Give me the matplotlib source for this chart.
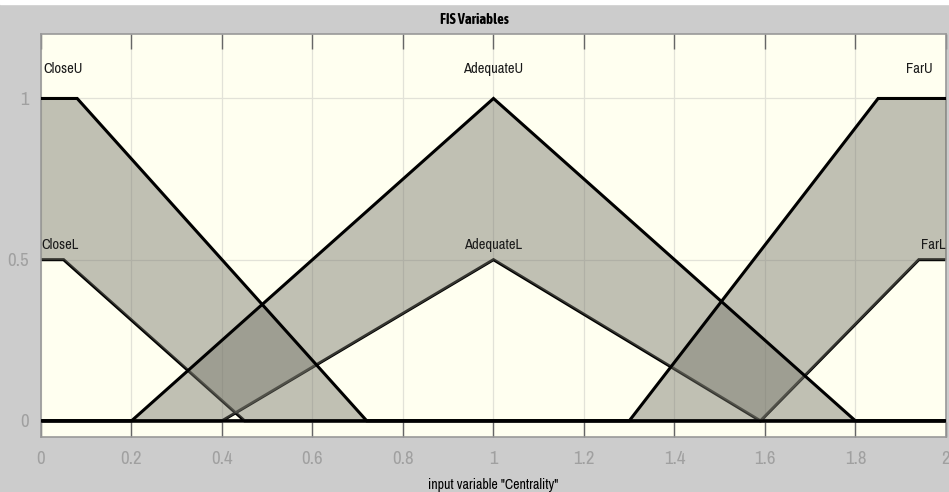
import numpy as np
import matplotlib.pyplot as plt
from matplotlib import font_manager

# membership functions of the input "Centrality" (upper / lower)
mf_names = ["Close", "Adequate", "Far"]
close_upper_x = [0.0, 0.08, 0.72, 2.0]
close_upper_y = [1.0, 1.0, 0.0, 0.0]
close_lower_x = [0.0, 0.05, 0.45, 2.0]
close_lower_y = [0.5, 0.5, 0.0, 0.0]
adequate_upper_x = [0.0, 0.2, 1.0, 1.8, 2.0]
adequate_upper_y = [0.0, 0.0, 1.0, 0.0, 0.0]
adequate_lower_x = [0.0, 0.4, 1.0, 1.59, 2.0]
adequate_lower_y = [0.0, 0.0, 0.5, 0.0, 0.0]
far_upper_x = [0.0, 1.3, 1.85, 2.0]
far_upper_y = [0.0, 0.0, 1.0, 1.0]
far_lower_x = [0.0, 1.59, 1.94, 2.0]
far_lower_y = [0.0, 0.0, 0.5, 0.5]

x_ticks = [0, 0.2, 0.4, 0.6, 0.8, 1, 1.2, 1.4, 1.6, 1.8, 2]
x_tick_labels = ["0", "0.2", "0.4", "0.6", "0.8", "1", "1.2", "1.4", "1.6", "1.8", "2"]
y_ticks = [0, 0.5, 1]
y_tick_labels = ["0", "0.5", "1"]

upper = [(close_upper_x, close_upper_y), (adequate_upper_x, adequate_upper_y),
         (far_upper_x, far_upper_y)]
lower = [(close_lower_x, close_lower_y), (adequate_lower_x, adequate_lower_y),
         (far_lower_x, far_lower_y)]

# prefer a narrow sans face if one is installed (MATLAB style look)
narrow, narrow_bold = None, None
for f in font_manager.fontManager.ttflist:
    if ("Narrow" in f.name or "Condensed" in f.name) and f.style == "normal":
        if narrow is None:
            narrow = f.name
        if f.weight in (700, "bold") and narrow_bold is None:
            narrow_bold = f.name
families = ([narrow] if narrow else []) + ["Liberation Sans", "DejaVu Sans"]
plt.rcParams["font.family"] = families
title_families = ([narrow_bold] if narrow_bold else []) + ["Liberation Sans", "DejaVu Sans"]

fig = plt.figure(figsize=(9.49, 4.92), dpi=100, facecolor="#cccccc")
fig.patches.append(plt.Rectangle((0, 0.992), 1, 0.01, transform=fig.transFigure,
                                 color="white", zorder=0))
ax = fig.add_axes([0.0432, 0.1118, 0.9536, 0.8191])
ax.set_facecolor("#fffff0")

xs = np.linspace(0, 2, 2001)
for (ux, uy), (lx, ly) in zip(upper, lower):
    yu = np.interp(xs, ux, uy)
    yl = np.interp(xs, lx, ly)
    ax.plot(lx, ly, color="black", lw=2.2, zorder=2, solid_joinstyle="miter")
    ax.fill_between(xs, yl, yu, color="#75756a", alpha=0.45, lw=0, zorder=3)
    ax.plot(ux, uy, color="black", lw=2.2, zorder=4, solid_joinstyle="miter")

# labels of the membership functions
lab = dict(fontsize=10.5, color="#1a1a1a", zorder=5)
ax.text(0.005, 1.09, mf_names[0] + "U", ha="left", va="center", **lab)
ax.text(1.0, 1.09, mf_names[1] + "U", ha="center", va="center", **lab)
ax.text(1.97, 1.09, mf_names[2] + "U", ha="right", va="center", **lab)
ax.text(0.0, 0.545, mf_names[0] + "L", ha="left", va="center", **lab)
ax.text(1.0, 0.545, mf_names[1] + "L", ha="center", va="center", **lab)
ax.text(2.0, 0.545, mf_names[2] + "L", ha="right", va="center", **lab)

ax.set_xlim(0, 2)
ax.set_ylim(-0.05, 1.2)
ax.set_xticks(x_ticks, x_tick_labels)
ax.set_yticks(y_ticks, y_tick_labels)
ax.grid(True, color="#e2e2d8", lw=0.9, zorder=1)
ax.set_axisbelow(True)
ax.tick_params(axis="x", direction="in", length=11, width=1, color="#666666",
               top=True, labelsize=13.5, labelcolor="#a0a0a0", pad=10)
ax.tick_params(axis="y", length=0, labelsize=13.5, labelcolor="#a0a0a0", pad=9)
for s in ax.spines.values():
    s.set_color("#999999")
    s.set_linewidth(1.2)

ax.set_xlabel('input variable "Centrality"', fontsize=10, labelpad=8)
fig.text(0.5, 0.96, "FIS Variables", ha="center", va="center",
         fontsize=10.5, fontweight="bold", family=title_families)

fig.savefig("out.png", dpi=100, facecolor=fig.get_facecolor())
